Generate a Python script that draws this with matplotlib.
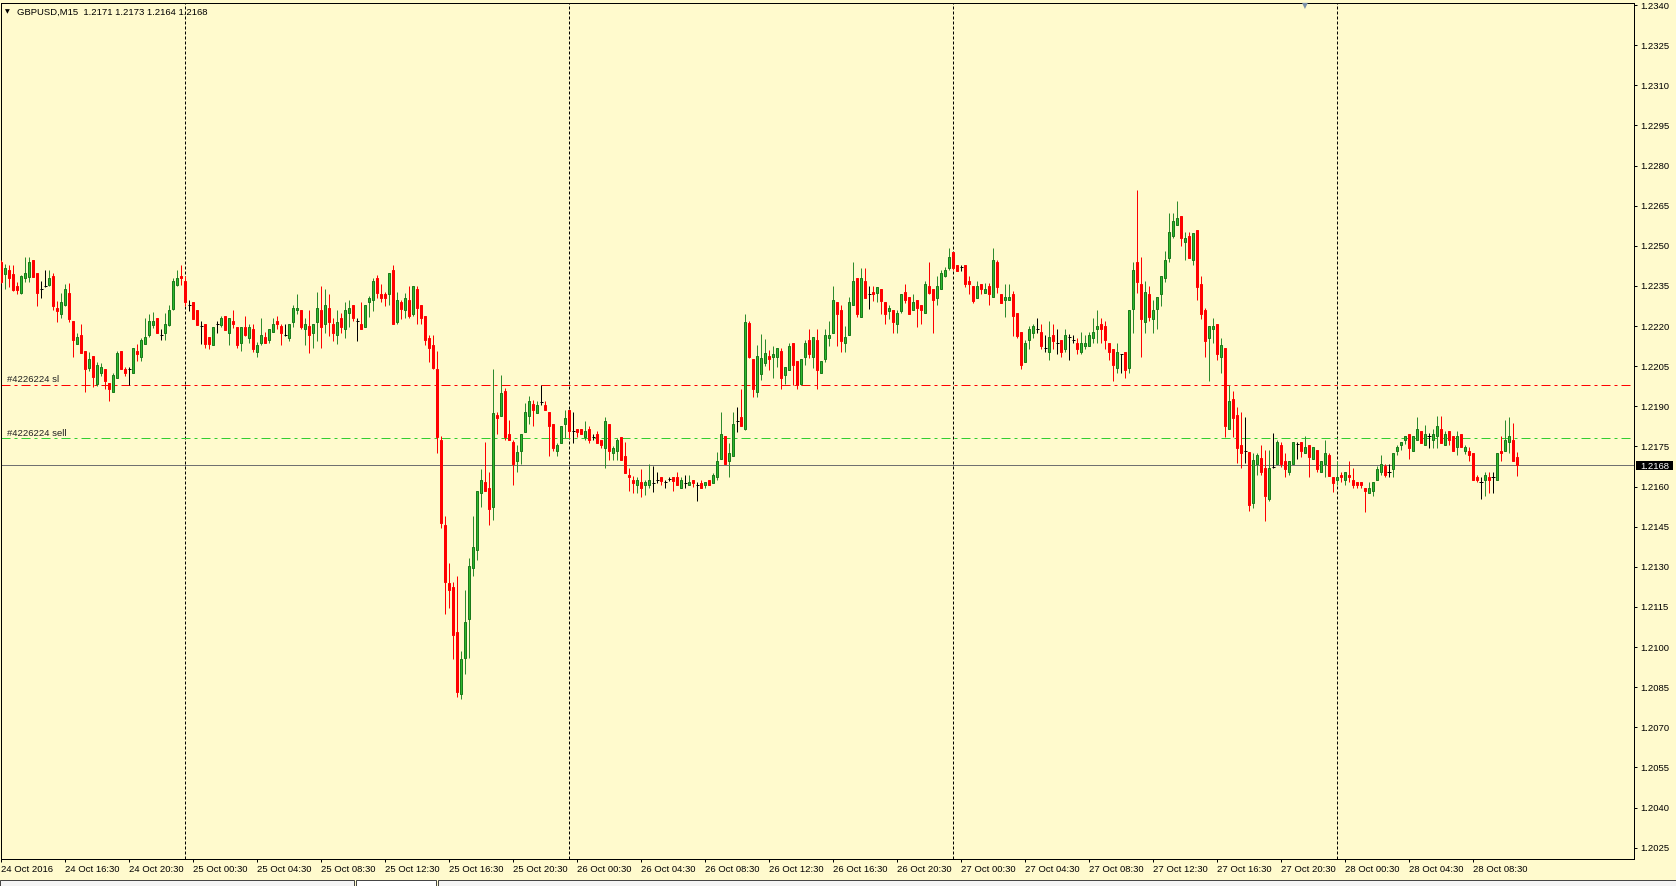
import numpy as np
import pandas as pd
import matplotlib
matplotlib.use('Agg')
from matplotlib import pyplot as plt
from matplotlib.patches import Rectangle

# GBPUSD M15, prices, in pips above 1.2000
symbol = 'GBPUSD,M15'
first_bar = '2016-10-24 12:30'

open_pips = [
    244.1, 239.6, 241.0, 239.4, 235.0, 232.5, 237.9, 238.5, 244.6, 240.0,
    233.8, 235.0, 235.4, 238.8, 226.9, 224.6, 227.9, 232.5, 221.9, 213.4,
    216.5, 210.6, 204.4, 208.8, 198.4, 202.5, 204.0, 198.8, 195.4, 200.6,
    210.6, 204.0, 204.0, 202.5, 210.6, 208.4, 213.4, 216.5, 220.4, 222.9,
    216.6, 217.5, 220.3, 226.3, 235.4, 238.8, 236.9, 227.8, 229.0, 226.0,
    220.0, 220.6, 215.9, 212.8, 220.6, 220.3, 223.8, 217.5, 221.9, 219.6,
    213.5, 219.6, 215.6, 218.8, 210.4, 213.5, 215.9, 214.6, 217.8, 221.9,
    220.0, 216.5, 215.6, 221.6, 225.9, 225.9, 218.8, 220.0, 217.5, 221.6,
    225.9, 220.6, 226.6, 220.6, 216.5, 222.9, 218.8, 224.9, 227.8, 221.9,
    220.6, 219.8, 228.8, 229.6, 237.9, 231.9, 231.9, 231.9, 240.9, 221.6,
    229.0, 225.9, 229.6, 224.6, 233.8, 227.8, 223.8, 215.6, 212.8, 203.8,
    177.5, 145.6, 123.8, 122.5, 105.6, 82.3, 96.0, 110.4, 129.6, 136.3,
    157.5, 161.5, 159.6, 152.3, 186.6, 186.5, 195.6, 179.8, 176.5, 169.6,
    173.4, 180.4, 186.5, 190.9, 187.5, 191.6, 190.6, 187.7, 183.5, 173.4,
    176.2, 183.4, 188.7, 180.6, 181.6, 181.6, 178.4, 181.6, 178.4, 179.7,
    177.5, 174.4, 183.5, 172.7, 173.4, 178.6, 171.5, 164.4, 162.5, 160.4,
    161.5, 160.4, 160.4, 161.2, 162.5, 163.7, 161.5, 162.7, 163.7, 163.7,
    159.4, 161.2, 160.4, 162.5, 160.6, 161.2, 160.4, 162.5, 161.2, 163.5,
    170.2, 178.7, 169.4, 171.5, 184.6, 185.9, 181.6, 221.0, 207.7, 195.4,
    202.0, 206.0, 208.7, 208.5, 208.5, 210.6, 201.5, 203.7, 213.5, 206.9,
    198.5, 208.5, 214.7, 208.5, 214.7, 202.5, 207.5, 215.6, 217.5, 229.0,
    226.0, 213.5, 216.5, 227.7, 237.9, 223.5, 236.9, 231.9, 232.7, 232.5,
    233.7, 229.0, 225.6, 226.0, 220.6, 225.6, 232.7, 230.9, 225.9, 229.7,
    227.7, 224.7, 235.0, 233.7, 230.6, 233.7, 238.7, 241.6, 247.7, 242.7,
    241.9, 242.7, 236.9, 235.0, 230.6, 235.6, 232.5, 235.0, 230.9, 244.0,
    232.0, 229.6, 229.6, 231.9, 224.7, 217.7, 206.6, 214.6, 217.5, 218.8,
    217.8, 211.6, 210.4, 216.6, 213.5, 214.6, 211.5, 215.9, 214.6, 213.5,
    210.4, 212.5, 212.5, 215.6, 218.8, 220.6, 220.0, 213.5, 211.5, 204.4,
    209.6, 210.4, 204.4, 226.5, 244.0, 235.6, 221.6, 231.9, 222.8, 226.5,
    231.9, 237.8, 245.6, 253.5, 257.8, 261.0, 251.5, 253.8, 244.6, 256.0,
    235.6, 226.0, 215.6, 218.8, 220.6, 208.4, 211.6, 181.5, 192.8, 186.6,
    175.6, 173.4, 172.8, 154.0, 168.5, 170.6, 166.9, 155.4, 167.2, 168.5,
    175.6, 169.6, 165.4, 168.5, 176.0, 176.5, 172.5, 175.6, 170.2, 173.5,
    165.4, 168.4, 171.6, 163.7, 162.5, 164.4, 162.5, 164.4, 162.5, 161.5,
    161.5, 159.6, 157.5, 158.4, 162.5, 165.6, 167.5, 165.6, 166.6, 173.4,
    175.6, 177.5, 179.7, 173.4, 177.5, 180.6, 175.6, 178.7, 177.5, 178.7,
    181.6, 175.6, 180.6, 178.7, 174.6, 179.7, 173.4, 173.4, 172.7, 163.5,
    161.5, 162.5, 163.5, 163.5, 162.5, 173.4, 173.4, 176.5, 177.5, 171.0,
]

high_pips = [
    244.6, 243.1, 242.8, 242.8, 236.5, 239.0, 245.9, 245.9, 244.6, 240.0,
    237.0, 241.0, 241.0, 240.0, 229.4, 232.5, 235.6, 235.9, 221.9, 217.5,
    220.6, 210.6, 210.3, 208.8, 206.6, 206.3, 204.0, 198.8, 202.5, 210.6,
    210.6, 204.8, 204.8, 211.6, 213.4, 215.6, 222.9, 224.6, 225.4, 222.9,
    218.8, 225.0, 227.9, 237.9, 240.9, 242.8, 238.8, 229.8, 229.0, 226.0,
    221.9, 220.6, 215.9, 219.6, 221.9, 223.8, 223.8, 222.9, 225.9, 219.6,
    219.6, 223.8, 220.9, 220.6, 214.1, 222.9, 217.8, 218.8, 222.9, 223.8,
    220.6, 220.6, 220.6, 227.8, 231.9, 225.9, 222.9, 225.9, 220.6, 232.8,
    235.0, 233.8, 231.9, 222.9, 225.9, 224.8, 229.0, 229.6, 227.8, 222.9,
    229.0, 227.8, 231.3, 238.1, 238.9, 235.6, 232.8, 239.8, 242.9, 232.8,
    229.6, 232.5, 235.0, 234.9, 234.9, 227.8, 223.8, 216.5, 216.5, 210.6,
    178.8, 148.8, 131.5, 124.4, 126.6, 98.5, 121.3, 133.4, 148.8, 158.4,
    166.6, 176.5, 165.6, 203.8, 187.8, 201.6, 196.9, 184.8, 177.5, 175.6,
    179.7, 191.2, 193.7, 192.5, 191.9, 197.9, 192.1, 187.7, 183.5, 176.2,
    182.7, 188.7, 188.7, 187.7, 181.6, 181.6, 184.6, 182.5, 179.6, 180.6,
    177.5, 185.9, 183.5, 175.2, 178.1, 178.6, 176.5, 166.9, 164.1, 163.4,
    166.6, 162.5, 168.5, 167.5, 165.6, 163.7, 162.5, 163.7, 163.7, 165.6,
    163.5, 164.4, 164.4, 162.5, 161.5, 162.5, 161.5, 162.5, 165.2, 172.9,
    187.9, 178.7, 176.2, 187.9, 189.6, 196.6, 224.5, 222.0, 207.7, 212.9,
    217.0, 215.0, 211.2, 212.7, 211.6, 211.9, 204.6, 213.7, 213.5, 206.9,
    207.5, 214.7, 219.0, 215.9, 219.0, 206.9, 219.0, 221.9, 235.0, 229.0,
    227.9, 220.0, 231.0, 244.0, 237.9, 241.6, 241.6, 235.0, 235.0, 234.7,
    233.7, 229.0, 227.7, 226.0, 226.0, 231.9, 235.6, 230.9, 231.9, 229.7,
    227.7, 236.9, 244.0, 233.7, 238.7, 241.0, 241.9, 249.0, 247.7, 242.7,
    242.9, 242.7, 238.7, 235.0, 236.9, 235.6, 236.0, 235.9, 249.0, 244.6,
    232.0, 235.6, 235.6, 232.9, 224.7, 217.7, 214.7, 220.0, 220.6, 223.1,
    220.6, 216.6, 221.9, 220.6, 218.8, 214.6, 218.8, 216.9, 216.6, 215.6,
    217.8, 216.6, 217.8, 223.1, 226.0, 223.1, 221.9, 213.5, 211.5, 213.5,
    209.6, 210.4, 226.0, 244.0, 270.9, 245.9, 236.9, 235.0, 229.8, 230.9,
    238.8, 247.9, 262.3, 262.3, 266.9, 261.0, 255.0, 255.0, 254.8, 256.0,
    238.8, 226.9, 220.0, 223.1, 220.6, 215.6, 211.6, 197.8, 195.6, 189.8,
    187.8, 185.9, 173.0, 172.5, 172.5, 175.6, 173.8, 173.8, 180.0, 177.5,
    176.5, 172.7, 169.6, 176.5, 176.5, 176.5, 178.7, 175.6, 174.6, 173.5,
    169.6, 177.5, 172.7, 163.7, 169.4, 165.6, 165.6, 169.6, 166.9, 161.5,
    161.5, 159.6, 161.5, 161.5, 167.7, 171.6, 168.5, 168.5, 172.7, 175.6,
    176.5, 178.7, 179.7, 178.7, 185.9, 180.6, 182.9, 180.0, 181.6, 186.5,
    186.5, 180.6, 180.6, 178.7, 180.6, 179.7, 175.6, 174.6, 172.7, 164.4,
    163.5, 165.6, 165.6, 165.6, 172.7, 178.7, 184.7, 185.9, 183.7, 173.0,
]

low_pips = [
    236.0, 233.8, 234.6, 233.0, 231.8, 232.0, 236.5, 236.5, 238.4, 227.5,
    230.6, 234.6, 235.0, 225.9, 221.6, 222.9, 227.5, 221.6, 208.5, 213.4,
    209.8, 195.4, 203.1, 197.3, 197.5, 201.3, 196.3, 191.9, 195.4, 200.6,
    203.8, 201.3, 198.1, 202.5, 207.1, 207.1, 213.4, 215.9, 219.1, 217.3,
    214.6, 214.6, 220.1, 226.0, 235.1, 235.3, 227.5, 225.6, 222.8, 220.4,
    213.4, 211.9, 211.5, 212.8, 217.5, 219.7, 218.5, 213.0, 219.4, 211.9,
    210.6, 216.3, 213.8, 210.4, 208.4, 212.8, 213.5, 213.5, 217.6, 218.8,
    212.8, 216.3, 214.4, 219.6, 224.6, 218.8, 212.8, 209.8, 211.6, 214.4,
    211.6, 217.5, 216.3, 214.4, 213.4, 217.5, 215.6, 219.8, 221.9, 214.4,
    218.8, 219.8, 223.4, 225.6, 230.6, 228.8, 227.5, 227.8, 220.6, 220.6,
    222.8, 222.9, 222.9, 223.8, 220.6, 220.6, 212.8, 206.6, 203.8, 172.5,
    144.4, 112.2, 114.4, 95.4, 81.3, 80.4, 90.0, 96.0, 126.5, 132.5,
    152.3, 158.4, 145.6, 147.5, 179.6, 186.5, 177.5, 177.5, 160.4, 165.4,
    168.4, 180.4, 183.4, 182.7, 187.5, 190.6, 188.5, 171.5, 173.4, 171.5,
    176.2, 178.1, 178.1, 176.2, 178.4, 179.6, 177.5, 176.2, 177.2, 176.2,
    174.4, 167.1, 170.0, 170.0, 170.0, 170.0, 165.2, 158.4, 157.5, 157.5,
    156.2, 156.9, 159.4, 158.1, 161.2, 160.4, 159.4, 162.2, 158.4, 160.4,
    159.4, 159.4, 160.4, 160.0, 154.4, 159.4, 159.4, 160.4, 161.2, 162.5,
    170.2, 168.5, 163.5, 171.5, 180.2, 182.7, 181.0, 208.0, 193.5, 193.5,
    200.0, 205.0, 203.7, 200.6, 204.5, 196.5, 198.4, 203.7, 197.9, 196.5,
    198.1, 205.4, 208.1, 204.4, 196.5, 202.5, 206.6, 212.5, 217.5, 212.5,
    210.4, 210.4, 216.5, 227.7, 223.5, 223.5, 230.6, 226.5, 229.4, 228.8,
    224.6, 220.6, 222.7, 217.5, 217.5, 224.7, 228.7, 224.6, 225.9, 219.7,
    220.6, 224.7, 231.9, 217.5, 227.7, 233.7, 238.5, 240.9, 240.9, 240.6,
    240.6, 234.7, 231.9, 228.7, 230.6, 231.9, 232.5, 227.7, 230.9, 232.5,
    228.7, 223.5, 229.6, 216.2, 215.6, 203.8, 206.6, 211.5, 215.6, 217.5,
    211.5, 210.4, 207.3, 211.5, 209.4, 208.4, 210.4, 207.3, 213.5, 209.4,
    209.4, 211.5, 212.5, 213.5, 213.5, 213.5, 211.5, 207.3, 199.4, 202.5,
    202.5, 200.6, 202.5, 217.5, 232.5, 208.4, 217.5, 221.9, 217.5, 218.8,
    227.5, 236.5, 243.8, 252.8, 257.8, 249.8, 244.6, 245.6, 242.8, 229.6,
    222.8, 208.4, 199.4, 213.5, 207.3, 202.5, 178.5, 181.5, 178.5, 168.8,
    166.9, 168.8, 151.0, 152.0, 164.4, 164.4, 147.0, 154.5, 166.9, 168.5,
    167.2, 163.5, 164.4, 168.5, 170.4, 171.2, 172.5, 163.5, 170.2, 165.4,
    165.4, 163.5, 164.1, 158.1, 160.6, 161.5, 160.6, 161.5, 159.4, 159.4,
    159.4, 150.4, 157.5, 156.5, 162.5, 164.4, 163.5, 163.5, 163.5, 171.6,
    173.7, 175.9, 170.4, 173.4, 177.5, 176.2, 175.6, 174.4, 174.4, 174.4,
    176.2, 175.6, 175.6, 173.4, 171.6, 174.6, 172.1, 169.6, 162.5, 161.5,
    155.4, 156.5, 157.5, 157.5, 162.5, 169.4, 173.4, 172.7, 169.6, 164.0,
]

close_pips = [
    236.6, 241.6, 237.9, 233.5, 233.5, 238.8, 239.8, 244.0, 238.5, 232.5,
    233.8, 235.0, 237.9, 227.5, 225.6, 229.0, 233.8, 222.5, 214.6, 215.9,
    209.8, 204.0, 207.8, 200.9, 205.6, 204.8, 199.6, 196.5, 201.6, 209.8,
    204.1, 202.5, 204.0, 211.6, 209.6, 214.8, 215.9, 221.9, 221.9, 217.5,
    216.6, 220.6, 225.9, 236.9, 237.9, 237.9, 228.8, 227.8, 222.8, 220.4,
    220.0, 213.4, 213.1, 219.6, 220.6, 222.9, 218.5, 222.9, 220.6, 212.8,
    219.6, 216.5, 219.8, 211.3, 212.9, 216.5, 213.5, 218.8, 220.6, 220.6,
    217.5, 216.5, 220.6, 226.6, 226.8, 219.8, 220.6, 216.5, 220.6, 226.6,
    219.8, 227.8, 221.6, 217.5, 221.6, 219.8, 225.9, 226.6, 222.9, 221.9,
    218.8, 227.8, 230.6, 236.8, 232.5, 230.6, 230.6, 239.8, 220.6, 229.6,
    226.5, 230.6, 223.8, 234.9, 226.6, 222.9, 214.6, 211.6, 204.4, 178.4,
    146.3, 124.2, 121.3, 104.4, 83.2, 95.4, 109.4, 130.4, 137.5, 158.4,
    162.5, 158.4, 151.5, 187.5, 185.6, 194.8, 178.4, 177.5, 168.4, 172.8,
    179.7, 187.7, 191.9, 188.5, 190.6, 191.6, 188.5, 182.7, 174.4, 175.6,
    182.7, 185.6, 180.6, 180.6, 180.4, 179.6, 180.6, 177.2, 178.4, 176.2,
    175.4, 184.6, 173.4, 174.4, 177.5, 170.0, 165.2, 163.5, 161.2, 162.5,
    159.4, 161.5, 162.5, 161.2, 162.5, 162.2, 161.5, 162.7, 162.2, 160.4,
    162.5, 161.2, 161.5, 161.2, 160.6, 159.4, 161.5, 160.4, 164.4, 169.7,
    179.7, 168.5, 172.7, 183.5, 184.6, 182.7, 221.5, 208.5, 196.6, 208.7,
    208.0, 210.0, 207.5, 209.7, 211.6, 200.6, 204.6, 212.7, 205.4, 197.9,
    207.5, 213.5, 209.6, 215.9, 203.5, 206.9, 216.5, 216.6, 229.7, 224.6,
    214.4, 215.9, 229.0, 236.9, 224.6, 237.9, 230.6, 231.9, 231.9, 234.7,
    229.4, 224.6, 226.6, 221.6, 224.7, 231.9, 229.6, 224.6, 229.0, 226.9,
    225.9, 235.6, 232.5, 229.6, 235.0, 239.7, 241.0, 245.9, 241.6, 240.6,
    241.9, 235.6, 235.6, 229.4, 235.0, 233.7, 233.7, 231.9, 244.6, 234.7,
    228.7, 230.9, 230.9, 223.7, 216.2, 205.4, 213.5, 218.7, 220.0, 218.8,
    212.5, 211.6, 215.9, 214.4, 213.5, 210.4, 216.6, 215.9, 214.6, 211.5,
    213.5, 213.5, 216.6, 217.8, 220.0, 218.8, 214.6, 210.4, 205.4, 210.4,
    209.6, 203.5, 226.0, 241.0, 236.5, 222.8, 232.8, 223.4, 226.0, 230.9,
    238.8, 244.8, 255.0, 259.2, 260.3, 252.8, 252.9, 245.6, 254.8, 234.6,
    224.6, 214.4, 220.0, 220.0, 209.6, 212.8, 182.5, 191.9, 185.6, 174.4,
    172.5, 173.4, 153.0, 169.8, 171.6, 165.6, 156.3, 166.9, 167.2, 176.5,
    168.5, 166.5, 169.6, 176.5, 176.0, 173.1, 174.6, 171.2, 174.6, 166.5,
    169.6, 172.7, 164.1, 161.2, 163.7, 163.5, 165.4, 163.5, 160.6, 160.6,
    160.6, 158.4, 159.6, 161.5, 166.6, 168.5, 164.4, 165.6, 172.7, 174.6,
    176.5, 178.7, 174.4, 178.7, 181.6, 176.2, 179.7, 178.7, 179.7, 182.8,
    176.2, 179.7, 177.5, 173.4, 178.7, 174.6, 174.6, 171.6, 162.5, 162.5,
    161.5, 164.4, 162.5, 163.5, 172.7, 172.5, 177.5, 178.7, 169.6, 168.0,
]

order_id = '#4226224'
sl_price = 1.2198
sell_price = 1.2178
y_ticks = np.arange(1.2025, 1.23401, 0.0015)

# colours of the MT4 template
bg = '#FFFACD'
up_fill = '#2EB82E'
up_edge = '#1A7A1A'
up_wick = '#2E8B2E'
dn_col = '#FF0000'
font = 'Liberation Sans'
fs = 6.8

o = 1.2 + np.array(open_pips) / 1e4
h = 1.2 + np.array(high_pips) / 1e4
l = 1.2 + np.array(low_pips) / 1e4
c = 1.2 + np.array(close_pips) / 1e4
h = np.maximum(h, np.maximum(o, c))
l = np.minimum(l, np.minimum(o, c))
n = len(o)
x = np.arange(n)
last = c[-1]

times = pd.date_range(first_bar, periods=n, freq='15min')
tick_idx = [0] + list(range(16, n, 16))
tick_lab = ['24 Oct 2016'] + [times[i].strftime('%d %b %H:%M') for i in tick_idx[1:]]
day_idx = [i for i, t in enumerate(times) if t.hour == 0 and t.minute == 0]

W, H = 1676, 886
fig = plt.figure(figsize=(W / 100, H / 100), dpi=100, facecolor=bg)
ax = fig.add_axes([0.5 / W, 27 / H, 1633.5 / W, 856 / H], facecolor=bg)

ymin, ymax = 1.202075, 1.234075
ax.set_xlim(-0.25, 408.25)
ax.set_ylim(ymin, ymax)
px = (ymax - ymin) / 856

px_lw = 0.72
up = c > o
dn = c < o
dj = c == o

ax.vlines(x[up], l[up], h[up], color=up_wick, lw=px_lw, zorder=3)
ax.bar(x[up], c[up] - o[up], bottom=o[up], width=0.5, color=up_fill,
       edgecolor=up_edge, lw=px_lw, zorder=4)
ax.vlines(x[dn], l[dn], h[dn], color=dn_col, lw=px_lw, zorder=3)
ax.bar(x[dn], o[dn] - c[dn], bottom=c[dn], width=0.5, color=dn_col,
       edgecolor=dn_col, lw=px_lw, zorder=4)
ax.vlines(x[dj], l[dj], h[dj], color='black', lw=px_lw, zorder=3)
ax.hlines(o[dj], x[dj] - 0.4, x[dj] + 0.4, color='black', lw=px_lw, zorder=4)

# day separators
for i in day_idx:
    ax.axvline(i, color='black', lw=px_lw, dashes=(3, 2), zorder=2)

# order levels and current price
ax.axhline(sl_price, color='#FF0000', lw=px_lw, dashes=(9, 4, 3, 4), zorder=2)
ax.axhline(sell_price, color='#32CD32', lw=px_lw, dashes=(9, 4, 3, 4), zorder=2)
ax.axhline(last, color='#707070', lw=px_lw, zorder=2)
ax.text(1.5, sl_price + 2.5 * px, order_id + ' sl', fontsize=fs, family=font,
        va='baseline', ha='left', color='#202020', zorder=5)
ax.text(1.5, sell_price + 2.5 * px, order_id + ' sell', fontsize=fs, family=font,
        va='baseline', ha='left', color='#202020', zorder=5)

# axes look
for s in ax.spines.values():
    s.set_color('black')
    s.set_linewidth(px_lw)
ax.yaxis.tick_right()
ax.set_yticks(y_ticks)
ax.set_yticklabels(['%.4f' % v for v in y_ticks], fontsize=fs, family=font)
ax.set_xticks(tick_idx)
ax.set_xticklabels(tick_lab, fontsize=fs, family=font, ha='left')
ax.tick_params(axis='y', length=2.2, width=px_lw, pad=2.2, colors='black')
ax.tick_params(axis='x', length=2.2, width=px_lw, pad=2.0, colors='black')

# current price tag on the scale
ax.add_patch(Rectangle((1.001, last - 4.5 * px), 37 / 1634, 9 * px,
                       transform=ax.get_yaxis_transform(), clip_on=False,
                       facecolor='black', edgecolor='none', zorder=6))
ax.text(1 + 6 / 1634, last, '%.4f' % last, transform=ax.get_yaxis_transform(),
        fontsize=fs, family=font, color='white', va='center_baseline',
        ha='left', zorder=7)

# header
fig.text(5 / W, 1 - 12 / H, '\u25BC', fontsize=4.5, family='DejaVu Sans',
         va='center', ha='left', color='black')
fig.text(17 / W, 1 - 12 / H,
         '%s  %.4f %.4f %.4f %.4f' % (symbol, o[-1], h[-1], l[-1], c[-1]),
         fontsize=fs, family=font, va='center', ha='left', color='black')
# chart shift marker
fig.text(1305 / W, 1 - 6 / H, '\u25BC', fontsize=5.5, family='DejaVu Sans',
         va='center', ha='center', color='#7A90A8')

# tab bar at the bottom of the window
tab_y = 1 - 886 / H
tab_h = 6 / H
for x0, x1, fc in [(0, 354, '#F4F4F4'), (356, 436, '#FFFFFF'), (438, W, '#F4F4F4')]:
    fig.add_artist(Rectangle((x0 / W, tab_y), (x1 - x0) / W, tab_h,
                             transform=fig.transFigure, facecolor=fc,
                             edgecolor='#404040', lw=0.7))

fig.savefig('out.png', dpi=100, facecolor=bg)
